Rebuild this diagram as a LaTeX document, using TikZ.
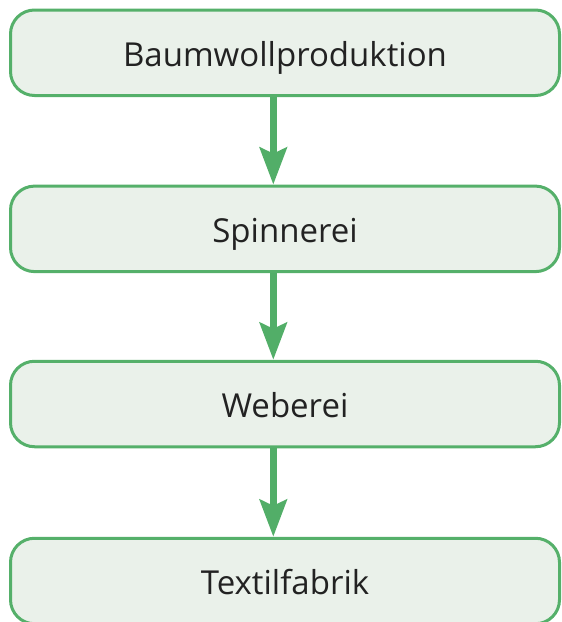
\documentclass[tikz,border=0pt]{standalone}
\usepackage{fontspec}
\setmainfont{Open Sans}
\usetikzlibrary{arrows.meta}
\definecolor{boxfill}{HTML}{EAF1EA}
\definecolor{boxline}{HTML}{55B06A}
\definecolor{arrowcol}{HTML}{52AE68}
\definecolor{txt}{HTML}{222222}
\tikzset{
  stagebox/.style={draw=boxline, line width=3pt, fill=boxfill, rounded corners=24pt,
    minimum width=549pt, minimum height=85.5pt, inner sep=0pt, text=txt,
    text height=27.5pt, text depth=0pt,
    font=\fontsize{33}{38}\selectfont},
  flowarrow/.style={draw=arrowcol, line width=7pt,
    -{Stealth[length=37pt, width=27pt, inset=6pt]}}
}
\begin{document}
\begin{tikzpicture}[x=1pt,y=1pt]
\useasboundingbox (0,0) rectangle (562,-622);
\clip (0,0) rectangle (562,-622);
\node[stagebox] (b1) at (285,-52.75) {Baumwollproduktion};
\node[stagebox] (b2) at (285,-228.85) {Spinnerei};
\node[stagebox] (b3) at (285,-404) {Weberei};
\node[stagebox] (b4) at (285,-581) {Textilfabrik};
\draw[flowarrow] ([xshift=-11.7pt]b1.south) -- ([xshift=-11.7pt]b2.north);
\draw[flowarrow] ([xshift=-11.7pt]b2.south) -- ([xshift=-11.7pt]b3.north);
\draw[flowarrow] ([xshift=-11.7pt]b3.south) -- ([xshift=-11.7pt]b4.north);
\end{tikzpicture}
\end{document}
